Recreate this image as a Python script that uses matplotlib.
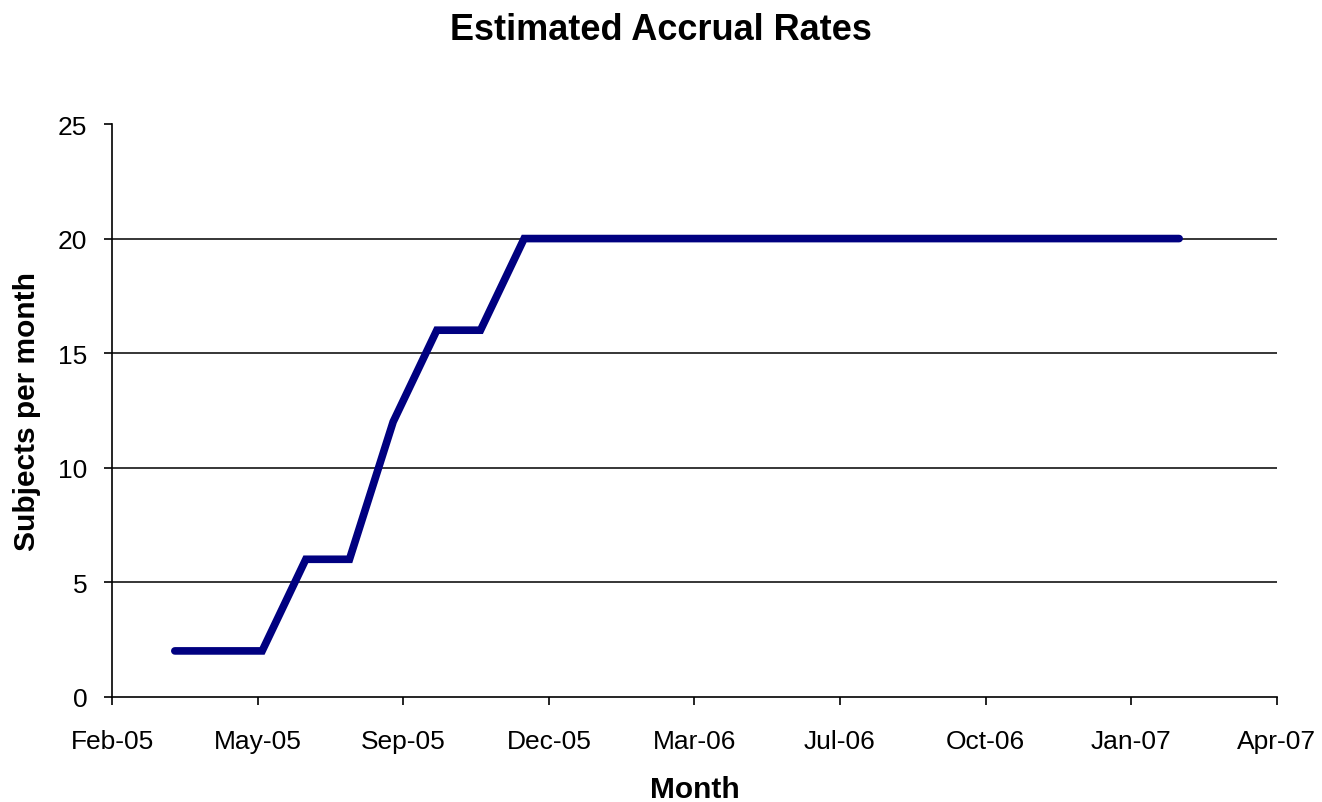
import datetime as dt
import matplotlib
matplotlib.use("Agg")
import matplotlib.pyplot as plt
import matplotlib.dates as mdates

plt.rcParams['font.family'] = ['Liberation Sans', 'DejaVu Sans']

# accrual estimate, one point every 30 days
dates = ["2005-04-01", "2005-05-01", "2005-05-31", "2005-06-30", "2005-07-30",
         "2005-08-29", "2005-09-28", "2005-10-28", "2005-11-27", "2005-12-27",
         "2006-01-26", "2006-02-25", "2006-03-27", "2006-04-26", "2006-05-26",
         "2006-06-25", "2006-07-25", "2006-08-24", "2006-09-23", "2006-10-23",
         "2006-11-22", "2006-12-22", "2007-01-21", "2007-02-20"]
subjects = [2, 2, 2, 6, 6, 12, 16, 16, 20, 20,
            20, 20, 20, 20, 20, 20, 20, 20, 20, 20,
            20, 20, 20, 20]

x_start = dt.date(2005, 2, 17)
x_step_days = 100
x_steps = 8
y_ticks = [0, 5, 10, 15, 20, 25]

x = [dt.datetime.strptime(d, "%Y-%m-%d").date() for d in dates]
x_ticks = [x_start + dt.timedelta(days=x_step_days * i) for i in range(x_steps + 1)]

fig = plt.figure(figsize=(13.22, 8.03), dpi=100)
ax = fig.add_axes([0.0849, 0.1311, 0.8808, 0.7132])

for yv in y_ticks[1:-1]:
    ax.axhline(yv, color='black', linewidth=1.1, zorder=1)

ax.plot(x, subjects, color='#000080', linewidth=5.5, solid_capstyle='round',
        solid_joinstyle='miter', zorder=3)

ax.set_xlim(x_ticks[0], x_ticks[-1])
ax.set_ylim(y_ticks[0], y_ticks[-1])
ax.set_xticks(x_ticks)
ax.xaxis.set_major_formatter(mdates.DateFormatter('%b-%y'))
ax.set_yticks(y_ticks)

for side in ['top', 'right']:
    ax.spines[side].set_visible(False)
for side in ['left', 'bottom']:
    ax.spines[side].set_linewidth(1.2)

ax.tick_params(axis='x', direction='out', length=6, width=1.2, labelsize=19, pad=17)
ax.tick_params(axis='y', direction='out', length=6, width=1.2, labelsize=19, pad=12)

ax.set_xlabel('Month', fontsize=21.5, fontweight='bold', labelpad=16)
ax.set_ylabel('Subjects per month', fontsize=21.5, fontweight='bold', labelpad=12)

fig.text(0.5, 1 - 30 / 803, 'Estimated Accrual Rates', ha='center', va='center',
         fontsize=26, fontweight='bold')

fig.savefig('out.png', dpi=100)
